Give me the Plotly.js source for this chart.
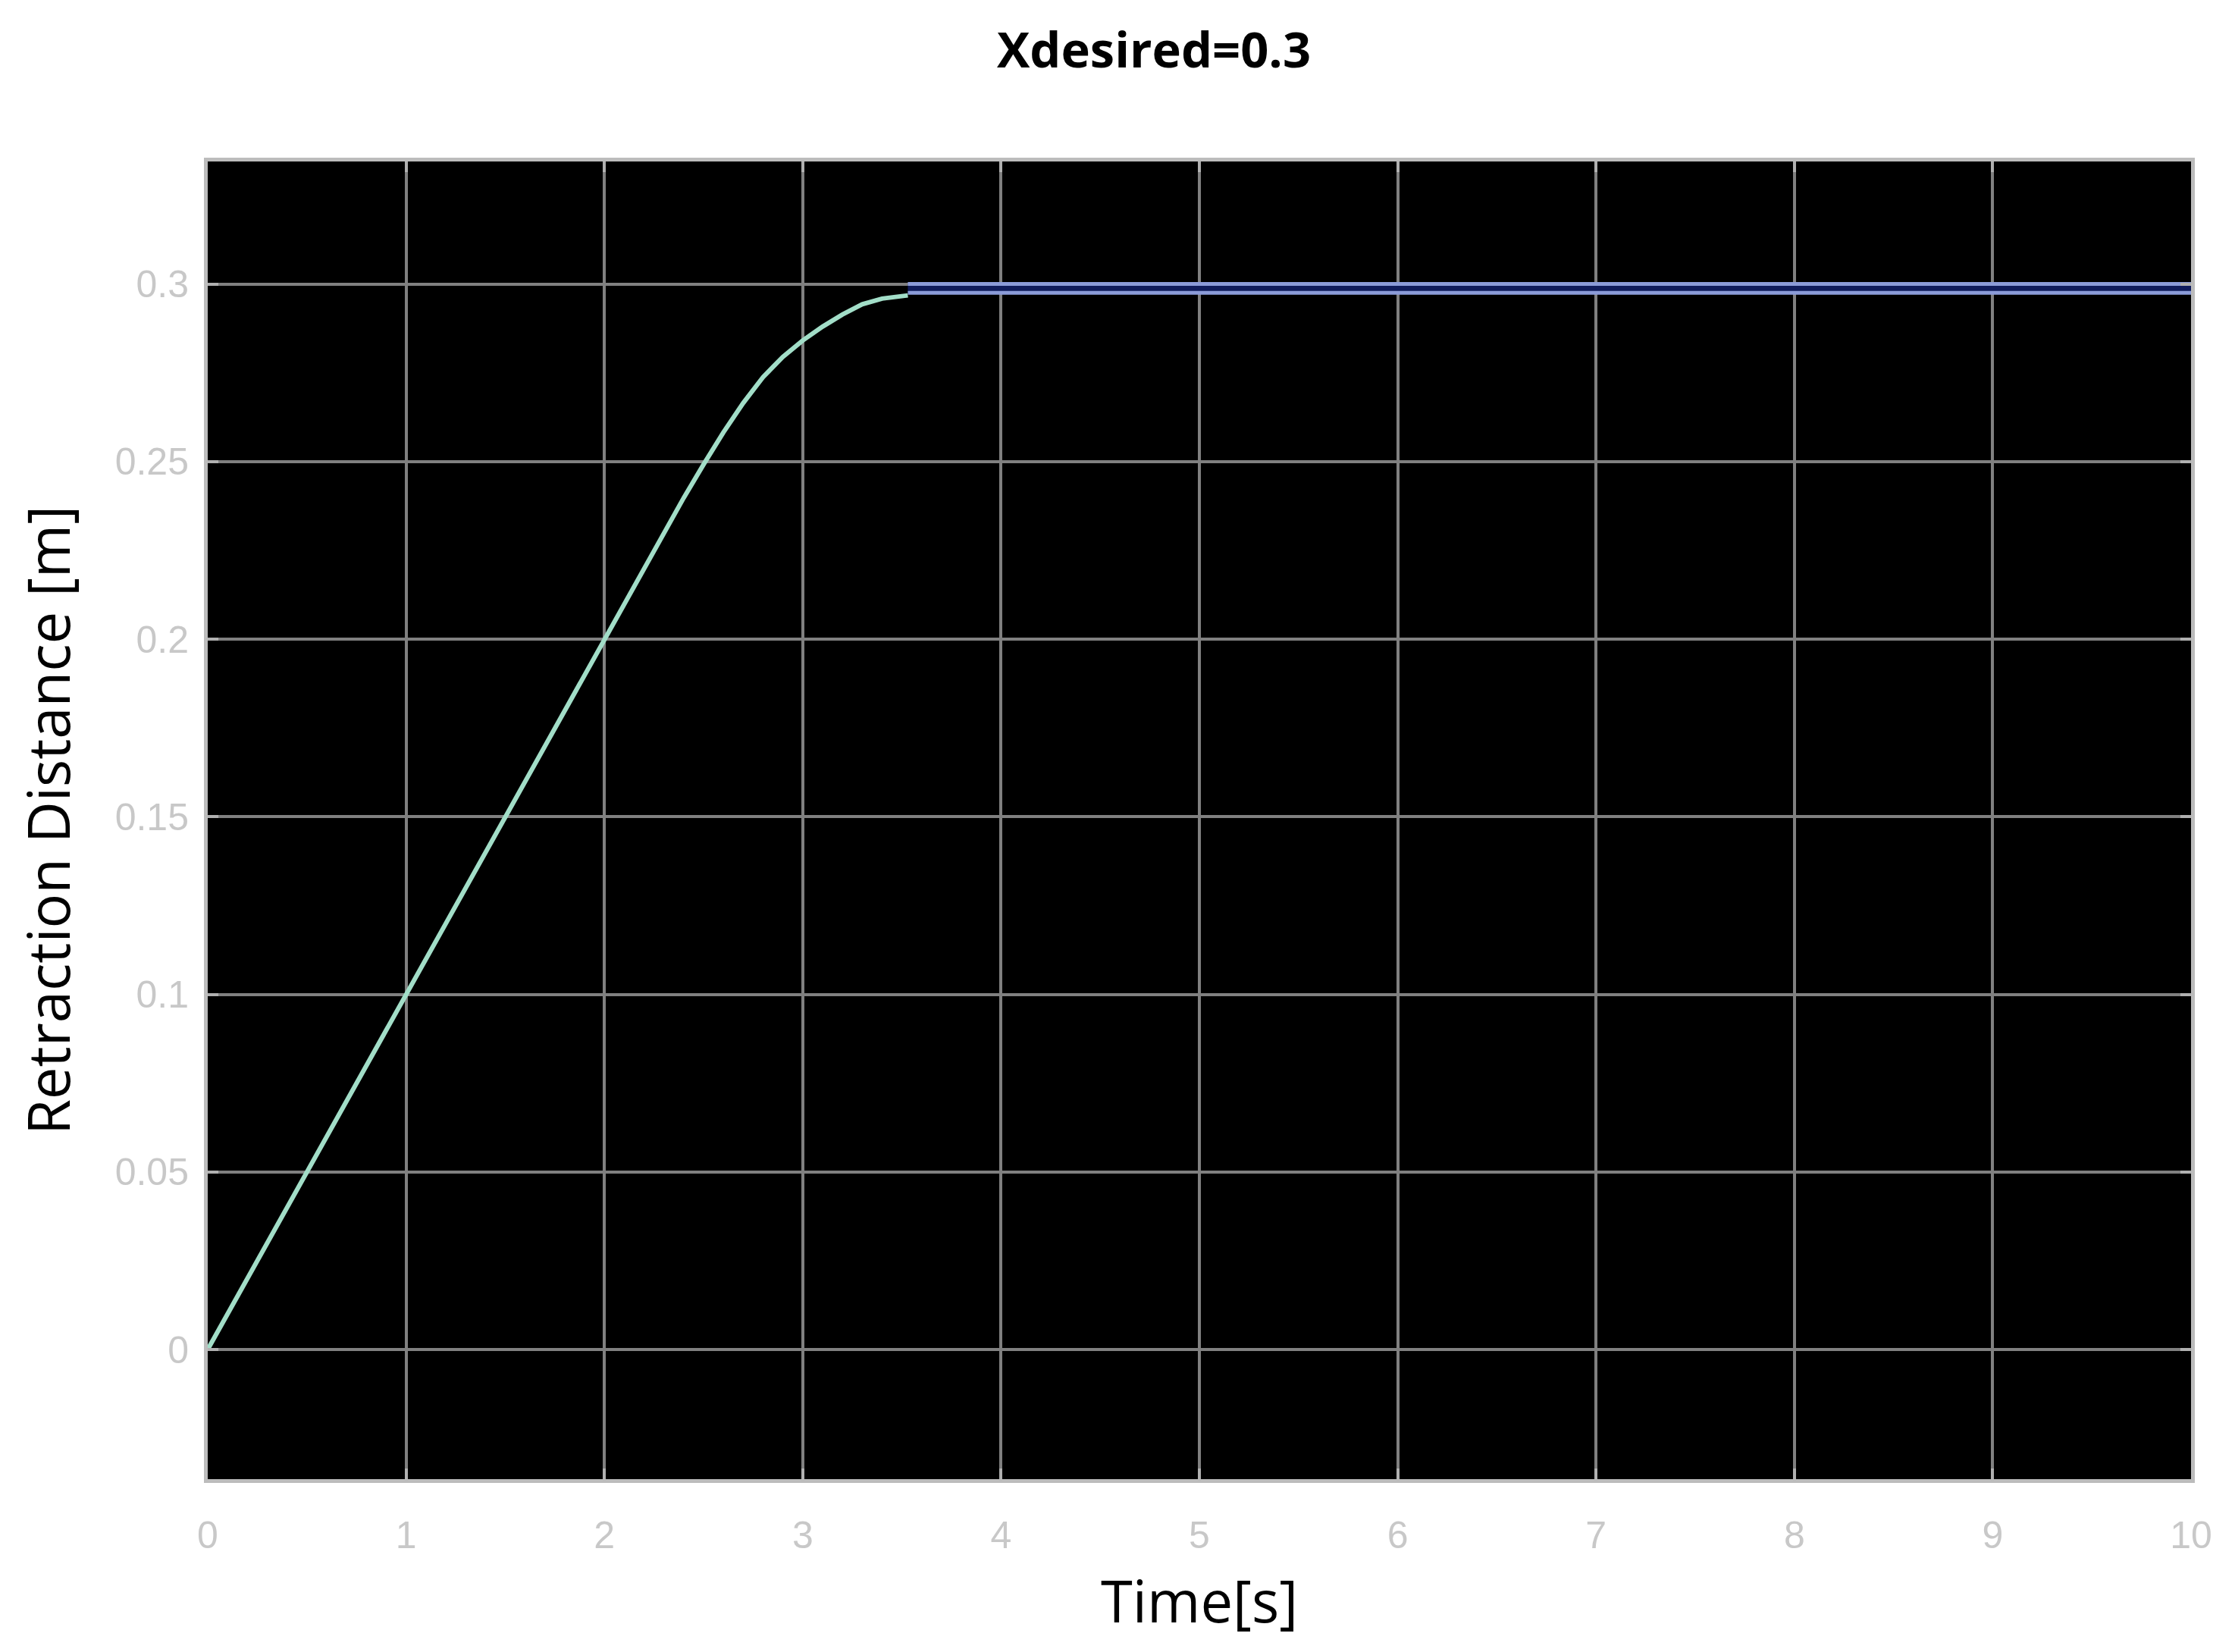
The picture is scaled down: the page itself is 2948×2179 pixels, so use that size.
<!DOCTYPE html>
<html>
<head>
<meta charset="utf-8">
<script src="https://cdn.plot.ly/plotly-3.0.1.min.js"></script>
<style>
  html, body { margin: 0; padding: 0; background: #ffffff; }
  #chart { width: 2948px; height: 2179px; }
</style>
</head>
<body>
<div id="chart"></div>
<script>
// Rising (transient) part of the retraction distance
const riseTime = [0, 0.5, 1.0, 1.5, 2.0, 2.3, 2.4, 2.5, 2.6, 2.7, 2.8, 2.9, 3.0, 3.1, 3.2, 3.3, 3.4, 3.53];
const riseDistance = [0, 0.05, 0.10, 0.15, 0.20, 0.23, 0.2398, 0.2492, 0.2582, 0.2665, 0.2738, 0.2795, 0.2841, 0.2880, 0.2914, 0.2943, 0.2959, 0.2968];

// Steady part (blue): actual value and the desired value
const steadyTime = [3.53, 10];
const steadyActual = [0.2975, 0.2975];
const steadyDesired = [0.3, 0.3];

// Axis ticks
const xTicks = [0, 1, 2, 3, 4, 5, 6, 7, 8, 9, 10];
const yTicks = [0, 0.05, 0.1, 0.15, 0.2, 0.25, 0.3];
const yTickText = ['0', '0.05', '0.1', '0.15', '0.2', '0.25', '0.3'];

const titleText = 'Xdesired=0.3';
const xTitle = 'Time[s]';
const yTitle = 'Retraction Distance [m]';

const W = 2948, H = 2179;
const margin = { l: 274, r: 58, t: 213, b: 228 };

const traces = [
  {
    x: steadyTime, y: steadyActual, mode: 'lines',
    line: { color: '#8b9bd8', width: 5 }, hoverinfo: 'skip', showlegend: false
  },
  {
    x: steadyTime, y: steadyDesired, mode: 'lines',
    line: { color: '#8b9bd8', width: 5 }, fill: 'tonexty', fillcolor: '#101c5c',
    hoverinfo: 'skip', showlegend: false
  },
  {
    x: riseTime, y: riseDistance, mode: 'lines',
    line: { color: '#a2dec8', width: 6 }, showlegend: false
  }
];

const tickFont = { family: 'Liberation Sans, Arial, sans-serif', size: 50, color: '#c8c8c8' };
const titleFont = { family: 'Open Sans, sans-serif', size: 76, color: '#000000' };

const layout = {
  width: W, height: H,
  margin: margin,
  paper_bgcolor: '#ffffff',
  plot_bgcolor: '#000000',
  showlegend: false,
  title: {
    text: '<b>' + titleText + '</b>',
    font: { family: 'Open Sans, sans-serif', size: 65, color: '#000000' },
    xref: 'container', yref: 'container',
    x: 1522 / W, xanchor: 'center',
    y: 1 - 66 / H, yanchor: 'middle'
  },
  xaxis: {
    range: [0, 10],
    tickvals: xTicks,
    ticktext: xTicks.map(String),
    showgrid: true, gridcolor: '#808080', gridwidth: 4,
    zeroline: false,
    showline: true, linecolor: '#bcbcbc', linewidth: 5, mirror: 'ticks',
    ticks: 'inside', ticklen: 14, tickwidth: 4, tickcolor: '#b0b0b0',
    tickfont: tickFont,
    ticklabelstandoff: 26,
    title: { text: xTitle, font: titleFont, standoff: 36 }
  },
  yaxis: {
    range: [-0.0365, 0.3345],
    tickvals: yTicks,
    ticktext: yTickText,
    showgrid: true, gridcolor: '#808080', gridwidth: 4,
    zeroline: false,
    showline: true, linecolor: '#bcbcbc', linewidth: 5, mirror: 'ticks',
    ticks: 'inside', ticklen: 14, tickwidth: 4, tickcolor: '#b0b0b0',
    tickfont: tickFont,
    ticklabelstandoff: 10,
    title: { text: yTitle, font: titleFont, standoff: 36 }
  }
};

Plotly.newPlot('chart', traces, layout, { displayModeBar: false, staticPlot: true });
</script>
</body>
</html>
